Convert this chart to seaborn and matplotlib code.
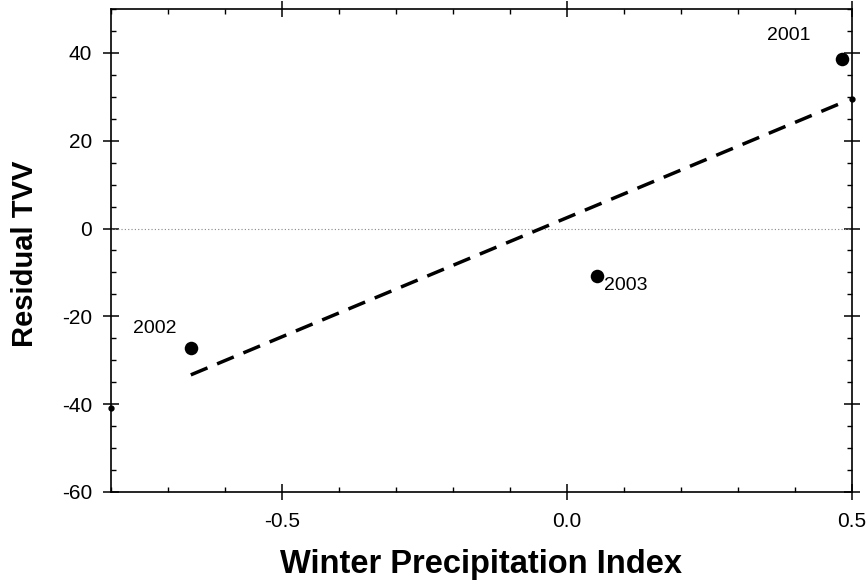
import numpy as np
import pandas as pd
import matplotlib
matplotlib.use("Agg")
import matplotlib.pyplot as plt
from matplotlib.ticker import MultipleLocator
import seaborn as sns

# Winter precipitation index vs. residual TVV, one point per year
years = ["2001", "2002", "2003"]
precip_index = [0.482, -0.660, 0.052]
residual_tvv = [38.6, -27.3, -10.7]

x_ticks = [-0.5, 0.0, 0.5]
x_tick_labels = ["-0.5", "0.0", "0.5"]
y_ticks = [-60, -40, -20, 0, 20, 40]

df = pd.DataFrame({"year": years, "x": precip_index, "y": residual_tvv})

sns.set_theme(style="ticks")
plt.rcParams["font.family"] = ["Liberation Sans", "DejaVu Sans"]
plt.rcParams["axes.unicode_minus"] = False
plt.rcParams["text.color"] = "black"
plt.rcParams["axes.labelcolor"] = "black"

fig = plt.figure(figsize=(8.68, 5.81), dpi=100)
ax = fig.add_axes([0.1279, 0.1532, 0.9816 - 0.1279, 0.9845 - 0.1532])

xlim = (-0.8, 0.5)
ylim = (-60, 50)

# zero reference line
ax.axhline(0, color="#888888", lw=0.8, ls=(0, (1, 2)), zorder=1)

# least-squares fit over the data range
sns.regplot(data=df, x="x", y="y", ax=ax, scatter=False, ci=None, truncate=True,
            line_kws=dict(color="black", lw=2.5, dashes=(5.2, 3.0), zorder=2))

# fitted values at the axis limits
slope, intercept = np.polyfit(precip_index, residual_tvv, 1)
ends = np.array(xlim)
ax.plot(ends, slope * ends + intercept, "o", color="black", ms=3.5,
        clip_on=False, zorder=4)

sns.scatterplot(data=df, x="x", y="y", ax=ax, color="black", s=95,
                edgecolor="black", linewidth=0, zorder=5)

offsets = {"2001": (-53, 24), "2002": (-36, 20), "2003": (29, -10)}
for yr, xv, yv in zip(years, precip_index, residual_tvv):
    ax.annotate(yr, (xv, yv), xytext=offsets[yr], textcoords="offset pixels",
                ha="center", va="center", fontsize=14, color="black")

ax.set_xlim(*xlim)
ax.set_ylim(*ylim)
ax.set_xticks(x_ticks)
ax.set_xticklabels(x_tick_labels)
ax.set_yticks(y_ticks)
ax.xaxis.set_minor_locator(MultipleLocator(0.1))
ax.yaxis.set_minor_locator(MultipleLocator(5))

for s in ax.spines.values():
    s.set_linewidth(1.2)
    s.set_color("black")

ax.tick_params(which="major", direction="inout", length=11, width=1.1,
               top=True, right=True, labelsize=15, pad=8,
               colors="black", labelcolor="black")
ax.tick_params(which="minor", direction="in", length=3.5, width=1.0,
               top=True, right=True, colors="black")
ax.tick_params(axis="x", which="major", pad=9)

ax.set_xlabel("Winter Precipitation Index", fontsize=23.5, fontweight="bold",
              color="black", va="center")
ax.set_ylabel("Residual TVV", fontsize=21, fontweight="bold", color="black",
              va="center", ha="center")
ax.xaxis.set_label_coords(0.499, -0.151)
ax.yaxis.set_label_coords(-0.116, 0.494)

fig.savefig("out.png", dpi=100)
